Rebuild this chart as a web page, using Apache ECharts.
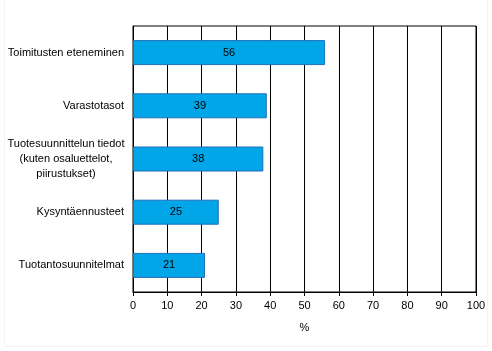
<!DOCTYPE html>
<html>
<head>
<meta charset="utf-8">
<script src="https://cdn.jsdelivr.net/npm/echarts@6/dist/echarts.min.js"></script>
<style>
  html, body { margin: 0; padding: 0; background: #fff; }
  #chart { width: 492px; height: 351px; }
</style>
</head>
<body>
<div id="chart"></div>
<script>
  // categories top to bottom
  var categories = [
    'Toimitusten eteneminen',
    'Varastotasot',
    'Tuotesuunnittelun tiedot\n(kuten osaluettelot,\npiirustukset)',
    'Kysyntäennusteet',
    'Tuotantosuunnitelmat'
  ]
  var values = [56, 39, 38, 25, 21]
  var xTicks = [0, 10, 20, 30, 40, 50, 60, 70, 80, 90, 100]

  var chart = echarts.init(document.getElementById('chart'))

  chart.setOption({
    backgroundColor: '#fff',
    animation: false,
    textStyle: { fontFamily: 'Liberation Sans, Arial, sans-serif' },
    graphic: [{
      type: 'rect',
      shape: { x: 4.5, y: -1, width: 483, height: 347.5 },
      style: { fill: 'none', stroke: '#f2f2f2', lineWidth: 1 },
      silent: true
    }],
    grid: {
      top: 26,
      left: 133,
      right: 16,
      bottom: 59,
      show: true,
      borderColor: '#000',
      borderWidth: 1,
      backgroundColor: 'transparent'
    },
    xAxis: {
      type: 'value',
      min: xTicks[0],
      max: xTicks[xTicks.length - 1],
      interval: 10,
      name: '%',
      nameLocation: 'middle',
      nameGap: 30,
      nameTextStyle: { color: '#000', fontSize: 11 },
      axisLine: { show: true, lineStyle: { color: '#000', width: 1 } },
      axisTick: { show: true, length: 4, lineStyle: { color: '#000' } },
      axisLabel: { color: '#000', fontSize: 11, margin: 8 },
      splitLine: { show: true, lineStyle: { color: '#000', width: 1 } }
    },
    yAxis: {
      type: 'category',
      inverse: true,
      data: categories,
      axisLine: { show: true, lineStyle: { color: '#000' } },
      axisTick: { show: false },
      axisLabel: {
        color: '#000',
        fontSize: 11,
        margin: 9,
        lineHeight: 15,
        formatter: function (v) {
          if (v.indexOf('\n') < 0) return v
          return v.split('\n').map(function (s) { return '{c|' + s + '}' }).join('\n')
        },
        rich: {
          c: { width: 116, align: 'center', fontSize: 11, lineHeight: 15, color: '#000' }
        }
      }
    },
    series: [{
      type: 'bar',
      data: values,
      barWidth: 25,
      itemStyle: { color: '#00a6e8', borderColor: '#1f6fb8', borderWidth: 1 },
      label: { show: true, position: 'inside', color: '#000', fontSize: 11 }
    }]
  })
</script>
</body>
</html>
